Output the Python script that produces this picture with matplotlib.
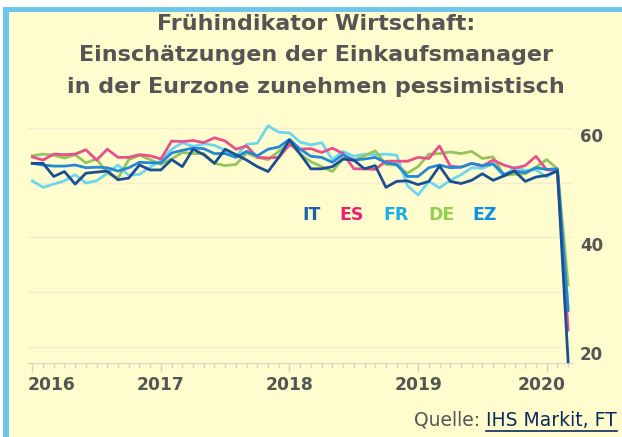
import matplotlib
matplotlib.use('Agg')
import matplotlib.pyplot as plt
from matplotlib.patches import Rectangle
from matplotlib.lines import Line2D
import matplotlib.transforms as mtransforms
import numpy as np

# ---------------- data (Services PMI, Jan 2016 - Mar 2020) ----------------
start_year = 2016
IT = [53.6, 53.6, 51.2, 52.1, 49.8, 51.8, 52.0, 52.2, 50.6, 50.9, 53.3, 52.4,
      52.4, 54.3, 53.0, 56.2, 55.2, 53.6, 56.2, 55.2, 54.2, 53.0, 52.1, 54.7,
      57.9, 55.3, 52.6, 52.6, 53.0, 54.4, 54.2, 52.6, 53.2, 49.2, 50.3, 50.4,
      49.7, 50.3, 53.1, 50.3, 49.9, 50.5, 51.7, 50.5, 51.3, 52.2, 50.3, 51.1,
      51.4, 52.2, 17.2]
ES = [54.8, 54.2, 55.3, 55.2, 55.3, 56.1, 54.2, 56.2, 54.7, 54.7, 55.2, 55.0,
      54.4, 57.7, 57.6, 57.8, 57.4, 58.3, 57.7, 56.2, 56.8, 54.7, 54.6, 54.7,
      57.0, 56.2, 56.3, 55.6, 56.4, 55.4, 52.6, 52.6, 52.5, 54.0, 54.0, 54.0,
      54.7, 54.5, 56.8, 53.1, 52.9, 53.6, 53.1, 54.2, 53.3, 52.7, 53.2, 54.9,
      52.4, 52.3, 23.0]
FR = [50.4, 49.2, 49.8, 50.4, 51.5, 50.0, 50.4, 51.8, 53.3, 51.4, 51.6, 52.9,
      54.1, 56.2, 57.4, 56.7, 57.2, 56.9, 56.0, 54.9, 57.1, 57.3, 60.5, 59.3,
      59.2, 57.5, 57.0, 57.4, 54.3, 55.8, 54.9, 55.3, 55.2, 55.3, 55.1, 49.5,
      47.8, 50.3, 49.1, 50.5, 51.5, 52.8, 52.7, 53.5, 51.2, 52.9, 52.3, 52.4,
      51.1, 52.4, 27.2]
DE = [55.0, 55.3, 55.1, 54.6, 55.2, 53.7, 54.4, 51.8, 50.9, 54.3, 55.1, 54.3,
      53.4, 54.4, 55.6, 55.4, 55.4, 53.6, 53.2, 53.4, 55.5, 54.7, 54.3, 55.8,
      57.3, 55.3, 53.9, 53.0, 52.1, 54.5, 54.1, 55.0, 55.9, 53.4, 53.3, 51.8,
      53.0, 55.3, 55.4, 55.7, 55.4, 55.8, 54.5, 54.8, 51.4, 51.6, 51.7, 52.9,
      54.3, 52.6, 31.3]
EZ = [53.6, 53.3, 53.1, 53.1, 53.3, 52.8, 52.9, 52.8, 52.2, 52.8, 53.8, 53.7,
      53.7, 55.5, 56.0, 56.4, 56.3, 55.4, 55.4, 54.7, 55.8, 55.0, 56.2, 56.6,
      58.0, 56.2, 54.9, 54.7, 53.8, 55.2, 54.2, 54.4, 54.7, 53.7, 53.4, 51.2,
      51.2, 52.8, 53.3, 52.8, 52.9, 53.6, 53.2, 53.5, 51.6, 52.2, 51.9, 52.8,
      52.5, 52.6, 26.6]

series_names = ['FR', 'DE', 'ES', 'EZ', 'IT']          # draw order
series_vals = {'IT': IT, 'ES': ES, 'FR': FR, 'DE': DE, 'EZ': EZ}
legend_order = ['IT', 'ES', 'FR', 'DE', 'EZ']
year_ticks = [2016, 2017, 2018, 2019, 2020]
y_grid = [20, 30, 40, 50, 60]
y_labels = [20, 40, 60]

title_lines = ['Frühindikator Wirtschaft:',
               'Einschätzungen der Einkaufsmanager',
               'in der Eurzone zunehmen pessimistisch']
source_prefix = 'Quelle: '
source_link = 'IHS Markit, FT'

# ---------------- style ----------------
BG = '#FFFDCD'
BORDER = '#6CC6EE'
TXT = '#555555'
line_colors = {'IT': '#1B4F93', 'ES': '#E9508A', 'FR': '#6DD6EF',
               'DE': '#95C45E', 'EZ': '#2388D6'}
label_colors = {'IT': '#1763AA', 'ES': '#EE1E6E', 'FR': '#1AADEA',
                'DE': '#92CF52', 'EZ': '#0B8FEA'}
FONT = 'DejaVu Sans'

W, H = 622, 437
fig = plt.figure(figsize=(W / 100, H / 100), dpi=100, facecolor='white')

# frame: blue border on top and left, pale yellow inside
fig.patches.append(Rectangle((3 / W, 0), 1 - 3 / W, 1 - 7 / H, transform=fig.transFigure,
                             facecolor=BORDER, edgecolor='none', zorder=-20))
fig.patches.append(Rectangle((9 / W, 0), 1 - 9 / W, 1 - 12 / H, transform=fig.transFigure,
                             facecolor=BG, edgecolor='none', zorder=-19))

# title
for txt, yc in zip(title_lines, [24, 55, 87]):
    fig.text(316 / W, 1 - yc / H, txt, ha='center', va='center', fontsize=16,
             fontweight='bold', color=TXT, family=FONT)

# axes
ax_l, ax_r, ax_t, ax_b = 28, 572, 115, 363.3
ax = fig.add_axes([ax_l / W, 1 - ax_b / H, (ax_r - ax_l) / W, (ax_b - ax_t) / H])
ax.set_facecolor('none')
px_per_year = 128.6
x0 = start_year - (32.3 - ax_l) / px_per_year
ax.set_xlim(x0, x0 + (ax_r - ax_l) / px_per_year)
px_per_unit = 5.45
ax.set_ylim(60 - (ax_b - 128.5) / px_per_unit, 60 + (128.5 - ax_t) / px_per_unit)

n = len(IT)
t = start_year + np.arange(n) / 12.0
for name in series_names:
    ax.plot(t, series_vals[name], color=line_colors[name], lw=2.0,
            solid_joinstyle='round', zorder=3, clip_on=False)

for s in ['top', 'right', 'left']:
    ax.spines[s].set_visible(False)
ax.spines['bottom'].set_color('#DCDAC4')
ax.spines['bottom'].set_linewidth(1)

ax.set_xticks(year_ticks)
ax.set_xticks(start_year + np.arange(0, 51) / 12.0, minor=True)
ax.tick_params(axis='x', which='major', length=6.5, width=1, color='#D6D4C0',
               labelbottom=False)
ax.tick_params(axis='x', which='minor', length=3.6, width=1, color='#D6D4C0')
ax.set_yticks(y_grid)
ax.tick_params(axis='y', length=0, labelleft=False)
ax.grid(axis='y', color='#F1EDD2', lw=1)
ax.set_axisbelow(True)

# x labels
blend_x = mtransforms.blended_transform_factory(ax.transData, ax.transAxes)
for yr in year_ticks:
    if yr == year_ticks[0]:
        off, ha = -5, 'left'
    elif yr == year_ticks[-1]:
        off, ha = -4.7, 'center'
    else:
        off, ha = 0, 'center'
    tr = blend_x + mtransforms.ScaledTranslation(off / 100, -22 / 100, fig.dpi_scale_trans)
    ax.text(yr, 0, str(yr), transform=tr, ha=ha, va='center', fontsize=12.3,
            fontweight='bold', color=TXT, family=FONT)

# y labels (right side)
blend_y = mtransforms.blended_transform_factory(ax.transAxes, ax.transData)
for v in y_labels:
    tr = blend_y + mtransforms.ScaledTranslation(8 / 100, -8.5 / 100, fig.dpi_scale_trans)
    ax.text(1, v, str(v), transform=tr, ha='left', va='center', fontsize=12,
            fontweight='bold', color=TXT, family=FONT)

# legend labels
for name, xc in zip(legend_order, [311.7, 352, 396, 441, 485]):
    fig.text(xc / W, 1 - 215 / H, name, ha='center', va='center', fontsize=12.5,
             fontweight='bold', color=label_colors[name], family=FONT)

# source
renderer = fig.canvas.get_renderer()
link = fig.text(617 / W, 1 - 420 / H, source_link, ha='right', va='center',
                fontsize=13.5, color='#0B2A5B', family=FONT)
bb = link.get_window_extent(renderer=renderer)
fig.text(bb.x0 / W, 1 - 420 / H, source_prefix, ha='right', va='center',
         fontsize=13.5, color=TXT, family=FONT)
fig.lines.append(Line2D([bb.x0 / W, bb.x1 / W], [1 - 431 / H, 1 - 431 / H],
                        transform=fig.transFigure, color='#0B2A5B', lw=1.2))

fig.savefig('out.png', dpi=100, facecolor=fig.get_facecolor())
